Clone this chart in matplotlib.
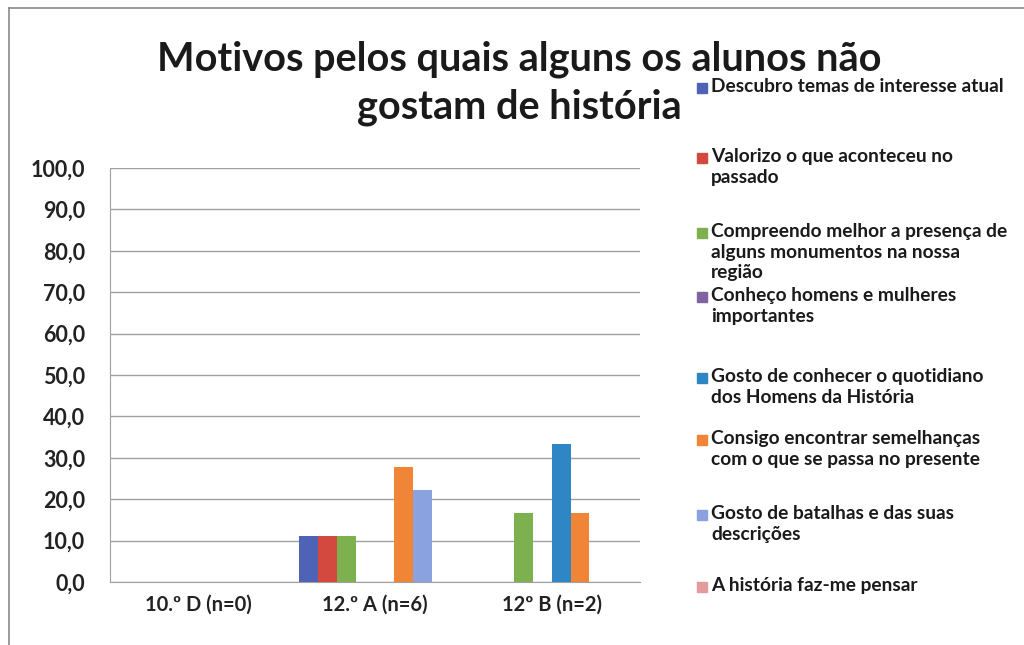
import matplotlib
matplotlib.use("Agg")
import matplotlib.pyplot as plt
from matplotlib.patches import Rectangle
from matplotlib.lines import Line2D
import numpy as np

plt.rcParams['font.family'] = ['Lato', 'DejaVu Sans']

# data
turmas = ["10.º D (n=0)", "12.º A (n=6)", "12º B (n=2)"]
motivos = [
    "Descubro temas de interesse atual",
    "Valorizo o que aconteceu no\npassado",
    "Compreendo melhor a presença de\nalguns monumentos na nossa\nregião",
    "Conheço homens e mulheres\nimportantes",
    "Gosto de conhecer o quotidiano\ndos Homens da História",
    "Consigo encontrar semelhanças\ncom o que se passa no presente",
    "Gosto de batalhas e das suas\ndescrições",
    "A história faz-me pensar",
]
descubro = [0, 11.1, 0]
valorizo = [0, 11.1, 0]
compreendo = [0, 11.1, 16.7]
conheco = [0, 0, 0]
quotidiano = [0, 0, 33.3]
semelhancas = [0, 27.8, 16.7]
batalhas = [0, 22.2, 0]
pensar = [0, 0, 0]
series = [descubro, valorizo, compreendo, conheco, quotidiano, semelhancas, batalhas, pensar]

colors = ["#4E63B6", "#D4493F", "#7DB04F", "#8064A2", "#2F86C4", "#F08538", "#8AA3E0", "#E39C9C"]

W, H = 1024, 645
fig = plt.figure(figsize=(W / 100, H / 100), dpi=100)
fig.patch.set_facecolor("white")

# plot area in pixels: left 110, right 640, top 168, bottom 582
ax = fig.add_axes([110 / W, (H - 582) / H, 530 / W, 414 / H])

x = np.arange(len(turmas))
bw = 0.107
for i, vals in enumerate(series):
    ax.bar(x + (i - 3.5) * bw, vals, bw, color=colors[i], edgecolor="none", zorder=3)

ax.set_xlim(-0.5, 2.5)
ax.set_ylim(0, 100)
ax.set_yticks(np.arange(0, 101, 10))
ax.set_yticklabels([f"{v:.1f}".replace(".", ",") for v in np.arange(0, 101, 10)],
                   fontsize=15.5, fontweight="bold", color="#222222")
ax.set_xticks(x)
ax.set_xticklabels(turmas, fontsize=14.5, fontweight="bold", color="#222222")
ax.tick_params(axis="both", length=0)
ax.tick_params(axis="y", pad=18)
ax.tick_params(axis="x", pad=9)
ax.grid(axis="y", color="#a0a0a0", linewidth=1.0, zorder=0)
for s in ["right", "top"]:
    ax.spines[s].set_visible(False)
ax.spines["left"].set_color("#a0a0a0")
ax.spines["bottom"].set_color("#a0a0a0")

# title, two centred lines
fig.text(519 / W, 1 - 70 / H, "Motivos pelos quais alguns os alunos não",
         ha="center", va="baseline", fontsize=28.5, fontweight="bold", color="#1a1a1a")
fig.text(519 / W, 1 - 118 / H, "gostam de história",
         ha="center", va="baseline", fontsize=28.5, fontweight="bold", color="#1a1a1a")

# legend, placed item by item
leg_y = [88, 158, 233, 297, 378, 440, 515, 587]
for lab, c, yy in zip(motivos, colors, leg_y):
    fig.patches.append(Rectangle((697 / W, 1 - (yy + 5) / H), 10 / W, 10 / H,
                                 transform=fig.transFigure, color=c, figure=fig))
    fig.text(711 / W, 1 - (yy - 10) / H, lab, ha="left", va="top",
             fontsize=13.8, fontweight="bold", color="#1a1a1a", linespacing=1.26)

# outer chart frame (left and top edges)
fig.lines.append(Line2D([9 / W, 9 / W], [0, 1 - 8 / H], transform=fig.transFigure,
                        color="#8a8a8a", linewidth=1.2))
fig.lines.append(Line2D([9 / W, 1], [1 - 8 / H, 1 - 8 / H], transform=fig.transFigure,
                        color="#8a8a8a", linewidth=1.2))

fig.savefig("out.png", dpi=100)
